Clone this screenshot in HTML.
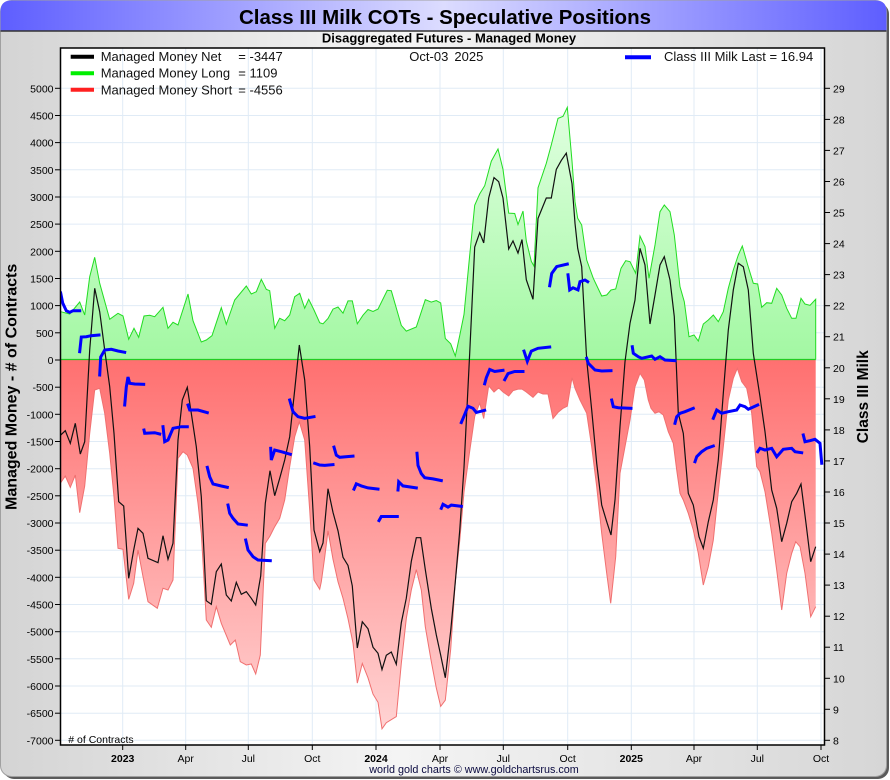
<!DOCTYPE html>
<html><head><meta charset="utf-8"><style>html,body{margin:0;padding:0;background:#fff}svg{display:block}</style></head><body>
<svg width="890" height="780" viewBox="0 0 890 780" xmlns="http://www.w3.org/2000/svg" font-family="'Liberation Sans', Arial, sans-serif">
<defs>
<linearGradient id="bg" x1="0" y1="0" x2="1" y2="0"><stop offset="0" stop-color="#d4d4d4"/><stop offset="0.45" stop-color="#f4f4f4"/><stop offset="1" stop-color="#d6d6d6"/></linearGradient>
<linearGradient id="tb" x1="0" y1="0" x2="1" y2="0"><stop offset="0" stop-color="#5e5eff"/><stop offset="0.5" stop-color="#dcdcff"/><stop offset="1" stop-color="#5e5eff"/></linearGradient>
<linearGradient id="gf" gradientUnits="userSpaceOnUse" x1="0" y1="100" x2="0" y2="360"><stop offset="0" stop-color="#e2ffe2"/><stop offset="1" stop-color="#a2f8a2"/></linearGradient>
<linearGradient id="rf" gradientUnits="userSpaceOnUse" x1="0" y1="360" x2="0" y2="740"><stop offset="0" stop-color="#ff7070"/><stop offset="1" stop-color="#ffd6d6"/></linearGradient>
<clipPath id="pc"><rect x="60.5" y="48" width="764" height="697"/></clipPath>
</defs>
<rect x="3" y="3" width="886" height="776" rx="11" fill="#5a5a5a"/>
<rect x="0.5" y="0.5" width="886" height="776" rx="11" fill="url(#bg)" stroke="#a0a0a0"/>
<path d="M0.5,31 L0.5,11.5 Q0.5,0.5 11.5,0.5 L875.5,0.5 Q886.5,0.5 886.5,11.5 L886.5,31 Z" fill="url(#tb)"/>
<line x1="0.5" y1="31" x2="886.5" y2="31" stroke="#333" stroke-width="1.5"/>
<text x="445" y="24" font-size="20.5" font-weight="bold" text-anchor="middle" fill="#000">Class III Milk COTs - Speculative Positions</text>
<text x="449" y="42.7" font-size="13" font-weight="bold" text-anchor="middle" fill="#000">Disaggregated Futures - Managed Money</text>
<rect x="60.5" y="48" width="764" height="697" fill="#fff"/>
<g stroke="#e0ebf6" stroke-width="1">
<line x1="60.5" x2="824.5" y1="88.3" y2="88.3"/><line x1="60.5" x2="824.5" y1="115.5" y2="115.5"/><line x1="60.5" x2="824.5" y1="142.6" y2="142.6"/><line x1="60.5" x2="824.5" y1="169.8" y2="169.8"/><line x1="60.5" x2="824.5" y1="197" y2="197"/><line x1="60.5" x2="824.5" y1="224.1" y2="224.1"/><line x1="60.5" x2="824.5" y1="251.3" y2="251.3"/><line x1="60.5" x2="824.5" y1="278.5" y2="278.5"/><line x1="60.5" x2="824.5" y1="305.6" y2="305.6"/><line x1="60.5" x2="824.5" y1="332.8" y2="332.8"/><line x1="60.5" x2="824.5" y1="360" y2="360"/><line x1="60.5" x2="824.5" y1="387.2" y2="387.2"/><line x1="60.5" x2="824.5" y1="414.3" y2="414.3"/><line x1="60.5" x2="824.5" y1="441.5" y2="441.5"/><line x1="60.5" x2="824.5" y1="468.7" y2="468.7"/><line x1="60.5" x2="824.5" y1="495.8" y2="495.8"/><line x1="60.5" x2="824.5" y1="523" y2="523"/><line x1="60.5" x2="824.5" y1="550.2" y2="550.2"/><line x1="60.5" x2="824.5" y1="577.3" y2="577.3"/><line x1="60.5" x2="824.5" y1="604.5" y2="604.5"/><line x1="60.5" x2="824.5" y1="631.7" y2="631.7"/><line x1="60.5" x2="824.5" y1="658.8" y2="658.8"/><line x1="60.5" x2="824.5" y1="686" y2="686"/><line x1="60.5" x2="824.5" y1="713.2" y2="713.2"/><line x1="60.5" x2="824.5" y1="740.3" y2="740.3"/>
<line y1="48" y2="745" x1="122.7" x2="122.7"/><line y1="48" y2="745" x1="185.7" x2="185.7"/><line y1="48" y2="745" x1="248.3" x2="248.3"/><line y1="48" y2="745" x1="312.3" x2="312.3"/><line y1="48" y2="745" x1="376" x2="376"/><line y1="48" y2="745" x1="440" x2="440"/><line y1="48" y2="745" x1="503.3" x2="503.3"/><line y1="48" y2="745" x1="567.7" x2="567.7"/><line y1="48" y2="745" x1="631.3" x2="631.3"/><line y1="48" y2="745" x1="694" x2="694"/><line y1="48" y2="745" x1="757.3" x2="757.3"/><line y1="48" y2="745" x1="821" x2="821"/>
</g>
<g clip-path="url(#pc)">
<polygon fill="url(#gf)" points="60.5,359.5 60.7,311.7 69.7,314 79.7,302 84.7,315 89.7,276.7 94.7,257.3 99.7,283.3 109.7,319.3 118,313.3 123,316 128.7,339.3 134,328.3 138.7,337.3 144,316 149.7,315.3 154.7,316.7 163,307.3 168,328.3 173,322.3 178,325 188,294 193,320.7 201.3,342 206.3,340 212,335.7 221.3,307.7 226.3,324.3 234.7,300 246.3,286 251.3,294 256.3,291.7 261.3,279.3 266.3,289.3 269.7,290.7 274.7,328.3 279.7,318.3 284.7,320.7 289.7,315 294.7,296.7 299.7,293.3 304.7,308.3 308.7,299.3 314,310 319.7,322.7 323,323.8 328,318.5 333,309.1 338,307 343,313.2 348,300.9 352.3,300.9 357.3,323.8 363,315.2 368,309.5 373,311.5 378,309.1 387.3,290.3 391.3,290.7 401.3,325.4 406.3,331.1 416.3,327 425.3,299.7 431.3,302.1 436.3,300.5 440.7,302.9 445.3,338.5 450.7,343.8 455.3,356 459.7,335.6 464,314.4 469.7,255.2 474.7,205.3 479.7,193.9 484.7,185.7 491.3,161.2 498,149 503,169.4 508.7,213.1 514.7,213.5 518,224.5 523,211.1 526.3,240.9 531.3,261.3 534,266.2 538,187.8 546.3,163.3 551.3,144.9 558,118.4 563,116.3 567.3,107.4 572,161.2 575,201.7 577.7,218.3 581.7,225 586.7,260 593.3,278.3 601.7,296 606.7,295 611,290 615.7,289 621,268.3 625.7,260.7 630,261.7 635.7,273.3 640,236 645,246.7 649,278.3 655,245 660,211.7 664.3,205 670,211.7 674.3,235 680,286.7 684.3,301.7 689,336.7 694,335 698.3,341 703.3,324 708.3,320 713.3,315 718.3,321.7 723.3,311.7 728.3,288.3 733.3,270 738.3,255 742.3,246 747.7,265 753.3,283.3 757.7,284 761.7,307.3 766.7,302.7 771.7,303.3 776.7,288.3 781.7,295 786.7,308.3 791.7,318.3 796,318.3 801,298.3 805,304 810,305.3 815.7,299.3 815.7,359.5"/>
<polygon fill="url(#rf)" points="60.5,359.5 60.7,482.7 65.3,476 70.3,487.3 75.3,475 79.7,512.7 84.7,486 89.7,433.3 94.7,390 99.7,388.3 104.7,413.3 109.7,453.3 114,496.7 118,548.3 123,549.3 128.7,599.3 133.7,583.3 138,550 143,576.7 148,601.7 157.3,608.3 163,588.3 168,590 173,580 178,458.3 183,451.7 187.3,455 193,468.3 198,503.3 201.3,533.3 206.3,620 211.3,627.3 216.3,606.7 221.3,623.3 230.3,645 235.3,640 240.3,661.7 246.3,665 251.3,664 255.7,674 260.3,655 265.3,543.3 270,536 274.7,526.7 279.7,518.3 284.7,500 289.7,466.7 294.7,436.7 299.3,421.7 304.7,440 309.7,510 314,580 319.7,589.3 321.3,581.8 324.7,557.3 328,530.8 333,559.3 338,581.8 343,598.2 348,618.6 353,643.1 357.3,683.1 362.3,663.5 368,677.8 373,694.1 378,702.3 382,728.8 386.3,722.7 396.3,716.6 401.3,663.5 406.3,618.6 411.3,590 416.3,569.6 421.3,590 425.3,626.8 431.3,661.5 436.3,688 440.7,706.4 445.3,700.2 450.7,649.2 455.3,581.8 459.7,541 464,492 469.7,451.2 474.7,416.5 479.7,403 483.7,418.5 488.7,385.8 494,392 498.7,387.9 503,392 508.7,396 513,390.7 518,389.1 522,389.1 526.3,392 533,397.3 538,392 543,394 548,394 553,418.5 558,412.4 563,408.3 567.3,406.2 572,377.7 575,388.3 580,400 586.7,413.3 591.7,446.7 596.7,486.7 601.7,533.3 606.7,573.3 610.7,603.3 615.7,556.7 620,473.3 625,446.7 630,420 635,386.7 640,373.3 644.3,380 648.3,400 651,408.3 655,413.3 659,411.7 663.3,415 668.3,431.7 673.3,443.3 676.7,470 680,493.3 683.3,500 688.3,513.3 693.3,530 698.3,553.3 703.3,585 708.3,566.7 713.3,540 718.3,491.7 723.3,446.7 728.3,400 733.3,378.3 737.3,368.3 741.7,381.7 746.7,388.3 751.7,413.3 756.7,466.7 760,471.7 765,491.7 771.7,533.3 776.7,570 781.7,610 786.7,573.3 791.7,553.3 795.7,541.7 800,546.7 805,573.3 810.7,616.7 815.7,606.7 815.7,359.5"/>
<polyline fill="none" stroke="#f07070" stroke-width="1" points="60.7,482.7 65.3,476 70.3,487.3 75.3,475 79.7,512.7 84.7,486 89.7,433.3 94.7,390 99.7,388.3 104.7,413.3 109.7,453.3 114,496.7 118,548.3 123,549.3 128.7,599.3 133.7,583.3 138,550 143,576.7 148,601.7 157.3,608.3 163,588.3 168,590 173,580 178,458.3 183,451.7 187.3,455 193,468.3 198,503.3 201.3,533.3 206.3,620 211.3,627.3 216.3,606.7 221.3,623.3 230.3,645 235.3,640 240.3,661.7 246.3,665 251.3,664 255.7,674 260.3,655 265.3,543.3 270,536 274.7,526.7 279.7,518.3 284.7,500 289.7,466.7 294.7,436.7 299.3,421.7 304.7,440 309.7,510 314,580 319.7,589.3 321.3,581.8 324.7,557.3 328,530.8 333,559.3 338,581.8 343,598.2 348,618.6 353,643.1 357.3,683.1 362.3,663.5 368,677.8 373,694.1 378,702.3 382,728.8 386.3,722.7 396.3,716.6 401.3,663.5 406.3,618.6 411.3,590 416.3,569.6 421.3,590 425.3,626.8 431.3,661.5 436.3,688 440.7,706.4 445.3,700.2 450.7,649.2 455.3,581.8 459.7,541 464,492 469.7,451.2 474.7,416.5 479.7,403 483.7,418.5 488.7,385.8 494,392 498.7,387.9 503,392 508.7,396 513,390.7 518,389.1 522,389.1 526.3,392 533,397.3 538,392 543,394 548,394 553,418.5 558,412.4 563,408.3 567.3,406.2 572,377.7 575,388.3 580,400 586.7,413.3 591.7,446.7 596.7,486.7 601.7,533.3 606.7,573.3 610.7,603.3 615.7,556.7 620,473.3 625,446.7 630,420 635,386.7 640,373.3 644.3,380 648.3,400 651,408.3 655,413.3 659,411.7 663.3,415 668.3,431.7 673.3,443.3 676.7,470 680,493.3 683.3,500 688.3,513.3 693.3,530 698.3,553.3 703.3,585 708.3,566.7 713.3,540 718.3,491.7 723.3,446.7 728.3,400 733.3,378.3 737.3,368.3 741.7,381.7 746.7,388.3 751.7,413.3 756.7,466.7 760,471.7 765,491.7 771.7,533.3 776.7,570 781.7,610 786.7,573.3 791.7,553.3 795.7,541.7 800,546.7 805,573.3 810.7,616.7 815.7,606.7"/>
<polyline fill="none" stroke="#22dd22" stroke-width="1" points="60.7,311.7 69.7,314 79.7,302 84.7,315 89.7,276.7 94.7,257.3 99.7,283.3 109.7,319.3 118,313.3 123,316 128.7,339.3 134,328.3 138.7,337.3 144,316 149.7,315.3 154.7,316.7 163,307.3 168,328.3 173,322.3 178,325 188,294 193,320.7 201.3,342 206.3,340 212,335.7 221.3,307.7 226.3,324.3 234.7,300 246.3,286 251.3,294 256.3,291.7 261.3,279.3 266.3,289.3 269.7,290.7 274.7,328.3 279.7,318.3 284.7,320.7 289.7,315 294.7,296.7 299.7,293.3 304.7,308.3 308.7,299.3 314,310 319.7,322.7 323,323.8 328,318.5 333,309.1 338,307 343,313.2 348,300.9 352.3,300.9 357.3,323.8 363,315.2 368,309.5 373,311.5 378,309.1 387.3,290.3 391.3,290.7 401.3,325.4 406.3,331.1 416.3,327 425.3,299.7 431.3,302.1 436.3,300.5 440.7,302.9 445.3,338.5 450.7,343.8 455.3,356 459.7,335.6 464,314.4 469.7,255.2 474.7,205.3 479.7,193.9 484.7,185.7 491.3,161.2 498,149 503,169.4 508.7,213.1 514.7,213.5 518,224.5 523,211.1 526.3,240.9 531.3,261.3 534,266.2 538,187.8 546.3,163.3 551.3,144.9 558,118.4 563,116.3 567.3,107.4 572,161.2 575,201.7 577.7,218.3 581.7,225 586.7,260 593.3,278.3 601.7,296 606.7,295 611,290 615.7,289 621,268.3 625.7,260.7 630,261.7 635.7,273.3 640,236 645,246.7 649,278.3 655,245 660,211.7 664.3,205 670,211.7 674.3,235 680,286.7 684.3,301.7 689,336.7 694,335 698.3,341 703.3,324 708.3,320 713.3,315 718.3,321.7 723.3,311.7 728.3,288.3 733.3,270 738.3,255 742.3,246 747.7,265 753.3,283.3 757.7,284 761.7,307.3 766.7,302.7 771.7,303.3 776.7,288.3 781.7,295 786.7,308.3 791.7,318.3 796,318.3 801,298.3 805,304 810,305.3 815.7,299.3 815.7,359.5"/>
<line x1="60.5" y1="359.5" x2="815.7" y2="359.5" stroke="#22cc22" stroke-width="1.2"/>
<polyline fill="none" stroke="#111" stroke-width="1.2" points="60.7,435 65.3,430.7 70.3,443.3 75.3,423.3 80.3,454 84.7,441.7 89.7,350 94.7,288.3 99.7,311.7 104.7,350 109.7,386.7 114,433.3 118.7,501.7 123.7,506 128.7,578.3 133.7,550 138,528.3 143,533.3 148,558.3 158,562.7 163,535.7 168,559.3 173,543.3 178,440 182.3,400 187.3,387.3 191.3,413.3 196.3,446.7 201.3,496.7 206.3,600.7 211.3,604.3 216.3,571.7 221.3,564 226.3,595 231.3,601 236.3,582.3 241.3,594.3 246.3,591.7 251.3,598.3 255.7,605 260.7,576 265.3,503.3 270,470.7 274.7,495.7 279.7,478.3 284.7,460 289.7,436.7 294.7,390 299.3,345 304.7,380 309.7,446.7 314,530 319.7,551.7 323,543 328,488.7 333,512.4 338,530.8 343,557.3 348,565.5 352.3,585.9 357.3,648 362.3,621.8 368,628.8 373,647.2 378,653.3 382,669.6 386.3,655.3 391.3,652 396.3,664.3 401.3,622.7 406.3,598.2 411.3,561.4 416.3,537.7 420.7,537.7 425.3,569.6 431.3,608.4 436.3,634.9 440.7,655.3 445.3,677.8 450.7,630.8 455.3,581.8 459.7,530.8 464,467.5 469.7,353.2 474.7,247 479.7,232.7 483.7,242.9 488.7,198 494,177.6 498.7,181.7 503,198 508.7,249 513,240.9 518,253.1 522,239.6 526.3,279.7 533,299.3 538,218.4 546.3,198 551.3,198 556.3,169.4 561.3,160.4 566.3,153.1 572,183.7 575,223.3 577.7,248.3 581.7,266.7 586.7,360 591.7,410 596.7,463.3 601.7,505 606.7,521.7 611,535 615,500 620,426.7 625,361.7 630,323.3 635,300 640,248.3 645,265 650,324 655,295 660,265 664.3,256.7 670,280 674.3,316.7 678.3,413.3 683.3,433.3 688.3,493.3 693.3,505 699,536.7 703.3,548.3 708.3,521.7 713.3,500 718.3,460 723.3,393.3 728.3,330 733.3,290 738.3,263.3 743.3,266.7 748.3,290 753.3,353.3 760,396.7 765,431.7 771.7,490 776.7,508.3 781.7,541.7 786.7,523.3 791.7,501.7 796.7,493.3 801,484 806,523.3 810.7,561.7 815.7,546.7"/>
<g fill="none" stroke="#0000ff" stroke-width="3" stroke-linejoin="miter" stroke-linecap="square">
<polyline points="60.7,293 62.7,303 66.3,310.7 69.7,312.3 73,310.7 79.7,310.7"/>
<polyline points="79.7,351.7 81.3,337 86.3,336.7 91,335.7 99,335"/>
<polyline points="99.7,375 100.7,357 104.7,350 111.3,349.3 118,351 124.7,352.3"/>
<polyline points="124.7,405 126.3,387 128,377 129.7,383.3 134.7,384 143.7,384.3"/>
<polyline points="144,430 144.7,433.3 154.7,432.7 159.7,434"/>
<polyline points="163,426.7 164.7,441.7 168,440 173,428.3 181.3,426.7 187.3,426.7"/>
<polyline points="188,405 189.7,410 198,410 207.3,412.7"/>
<polyline points="207.3,467.3 209.7,476.7 213,484 221.3,486 227.3,487.3"/>
<polyline points="228,505 229.7,513.3 233,518.3 238,524 246.3,525"/>
<polyline points="245.7,540 248,550 253,556.7 258,560 270.3,560.7"/>
<polyline points="270.7,448.3 271.3,460 274.7,450 281.3,451.7 290.3,454.3"/>
<polyline points="289.7,400 293,411.7 298,416.7 304.7,418.3 314,416.7"/>
<polyline points="314.7,463.3 319.7,465 324.7,465.4 333,464.6"/>
<polyline points="334,447.1 336.3,455.2 339.7,457.3 353,456.1"/>
<polyline points="354,489.1 356.3,483.8 361.3,485.9 368,487.9 378,489.1"/>
<polyline points="379,520.6 381.3,516.5 388,516.5 397.3,516.5"/>
<polyline points="398,490 398.7,481.8 403,485.9 416.3,487.9"/>
<polyline points="417,453.2 418,465.4 421.3,473.6 424.7,477.7 433,478.9 441.3,480.6"/>
<polyline points="441.3,508.3 443,504.3 448,507.1 451.3,505.1 461.3,506.3"/>
<polyline points="461.3,422.6 464.7,414.4 468,406.2 473,408.3 476.3,412.4 484.7,410.3"/>
<polyline points="484.7,383.8 486.3,377.7 489.7,369.5 494.7,371.5 503,370.3"/>
<polyline points="504.7,379.7 508,373.6 514.7,371.5 523,371.5"/>
<polyline points="524,351.1 527.3,361.3 531.3,351.1 538,348.3 549.7,347"/>
<polyline points="549.7,285.8 551.7,273.5 556.7,266.6 567.3,264.1"/>
<polyline points="568,274.8 569.7,289.9 573,287.8 578,289.9 580,281.7 585,280 587.7,281.7"/>
<polyline points="586.7,358.3 588.3,363.3 591.7,366.7 595,370 601.7,371 611,370.7"/>
<polyline points="611.7,400 613.3,406.7 618.3,407.7 631,408.3"/>
<polyline points="632.3,346.7 633.3,353.3 638.3,356.7 641.7,358.3 651.7,356 655,359.3 660,356.7 665,360 675,360.7"/>
<polyline points="675,423.3 676.7,416.7 680,413.3 685,411.7 693.3,408.3"/>
<polyline points="695,461.7 696.7,456.7 701.7,451.7 706.7,448.3 713.3,446"/>
<polyline points="713.3,418.3 716.7,410 721.7,413.3 728.3,411.7 736.7,410 740,405 745,406.7 748.3,409.3 757.7,405"/>
<polyline points="757.7,451.7 760,448.3 765,450 771.7,448.3 776.7,456.7 783.3,449.3 791.7,448.3 795,451.7 801.7,452.7"/>
<polyline points="803.3,435 805,441.7 810,440.7 815,439.3 820,443.3 821.7,463.3"/>
</g>
</g>
<rect x="60.5" y="48" width="764" height="697" fill="none" stroke="#000" stroke-width="1.5"/>
<g stroke="#000" stroke-width="1">
<line x1="55" x2="60.5" y1="88.3" y2="88.3"/><line x1="55" x2="60.5" y1="115.5" y2="115.5"/><line x1="55" x2="60.5" y1="142.6" y2="142.6"/><line x1="55" x2="60.5" y1="169.8" y2="169.8"/><line x1="55" x2="60.5" y1="197" y2="197"/><line x1="55" x2="60.5" y1="224.1" y2="224.1"/><line x1="55" x2="60.5" y1="251.3" y2="251.3"/><line x1="55" x2="60.5" y1="278.5" y2="278.5"/><line x1="55" x2="60.5" y1="305.6" y2="305.6"/><line x1="55" x2="60.5" y1="332.8" y2="332.8"/><line x1="55" x2="60.5" y1="360" y2="360"/><line x1="55" x2="60.5" y1="387.2" y2="387.2"/><line x1="55" x2="60.5" y1="414.3" y2="414.3"/><line x1="55" x2="60.5" y1="441.5" y2="441.5"/><line x1="55" x2="60.5" y1="468.7" y2="468.7"/><line x1="55" x2="60.5" y1="495.8" y2="495.8"/><line x1="55" x2="60.5" y1="523" y2="523"/><line x1="55" x2="60.5" y1="550.2" y2="550.2"/><line x1="55" x2="60.5" y1="577.3" y2="577.3"/><line x1="55" x2="60.5" y1="604.5" y2="604.5"/><line x1="55" x2="60.5" y1="631.7" y2="631.7"/><line x1="55" x2="60.5" y1="658.8" y2="658.8"/><line x1="55" x2="60.5" y1="686" y2="686"/><line x1="55" x2="60.5" y1="713.2" y2="713.2"/><line x1="55" x2="60.5" y1="740.3" y2="740.3"/>
<line x1="824.5" x2="830" y1="88.3" y2="88.3"/><line x1="824.5" x2="830" y1="119.4" y2="119.4"/><line x1="824.5" x2="830" y1="150.4" y2="150.4"/><line x1="824.5" x2="830" y1="181.5" y2="181.5"/><line x1="824.5" x2="830" y1="212.5" y2="212.5"/><line x1="824.5" x2="830" y1="243.6" y2="243.6"/><line x1="824.5" x2="830" y1="274.6" y2="274.6"/><line x1="824.5" x2="830" y1="305.7" y2="305.7"/><line x1="824.5" x2="830" y1="336.7" y2="336.7"/><line x1="824.5" x2="830" y1="367.8" y2="367.8"/><line x1="824.5" x2="830" y1="398.8" y2="398.8"/><line x1="824.5" x2="830" y1="429.9" y2="429.9"/><line x1="824.5" x2="830" y1="460.9" y2="460.9"/><line x1="824.5" x2="830" y1="492" y2="492"/><line x1="824.5" x2="830" y1="523" y2="523"/><line x1="824.5" x2="830" y1="554.1" y2="554.1"/><line x1="824.5" x2="830" y1="585.1" y2="585.1"/><line x1="824.5" x2="830" y1="616.2" y2="616.2"/><line x1="824.5" x2="830" y1="647.2" y2="647.2"/><line x1="824.5" x2="830" y1="678.3" y2="678.3"/><line x1="824.5" x2="830" y1="709.3" y2="709.3"/><line x1="824.5" x2="830" y1="740.3" y2="740.3"/>
<line y1="745" y2="750" x1="122.7" x2="122.7"/><line y1="745" y2="750" x1="185.7" x2="185.7"/><line y1="745" y2="750" x1="248.3" x2="248.3"/><line y1="745" y2="750" x1="312.3" x2="312.3"/><line y1="745" y2="750" x1="376" x2="376"/><line y1="745" y2="750" x1="440" x2="440"/><line y1="745" y2="750" x1="503.3" x2="503.3"/><line y1="745" y2="750" x1="567.7" x2="567.7"/><line y1="745" y2="750" x1="631.3" x2="631.3"/><line y1="745" y2="750" x1="694" x2="694"/><line y1="745" y2="750" x1="757.3" x2="757.3"/><line y1="745" y2="750" x1="821" x2="821"/>
</g>
<g font-size="10.5" fill="#000" text-anchor="end">
<text x="53.5" y="92.3">5000</text><text x="53.5" y="119.5">4500</text><text x="53.5" y="146.6">4000</text><text x="53.5" y="173.8">3500</text><text x="53.5" y="201">3000</text><text x="53.5" y="228.1">2500</text><text x="53.5" y="255.3">2000</text><text x="53.5" y="282.5">1500</text><text x="53.5" y="309.6">1000</text><text x="53.5" y="336.8">500</text><text x="53.5" y="364">0</text><text x="53.5" y="391.2">-500</text><text x="53.5" y="418.3">-1000</text><text x="53.5" y="445.5">-1500</text><text x="53.5" y="472.7">-2000</text><text x="53.5" y="499.8">-2500</text><text x="53.5" y="527">-3000</text><text x="53.5" y="554.2">-3500</text><text x="53.5" y="581.3">-4000</text><text x="53.5" y="608.5">-4500</text><text x="53.5" y="635.7">-5000</text><text x="53.5" y="662.8">-5500</text><text x="53.5" y="690">-6000</text><text x="53.5" y="717.2">-6500</text><text x="53.5" y="744.3">-7000</text>
</g>
<g font-size="10.5" fill="#000">
<text x="833" y="92.3">29</text><text x="833" y="123.4">28</text><text x="833" y="154.4">27</text><text x="833" y="185.5">26</text><text x="833" y="216.5">25</text><text x="833" y="247.6">24</text><text x="833" y="278.6">23</text><text x="833" y="309.7">22</text><text x="833" y="340.7">21</text><text x="833" y="371.8">20</text><text x="833" y="402.8">19</text><text x="833" y="433.9">18</text><text x="833" y="464.9">17</text><text x="833" y="496">16</text><text x="833" y="527">15</text><text x="833" y="558.1">14</text><text x="833" y="589.1">13</text><text x="833" y="620.2">12</text><text x="833" y="651.2">11</text><text x="833" y="682.3">10</text><text x="833" y="713.3">9</text><text x="833" y="744.3">8</text>
</g>
<g font-size="10.5" fill="#000" text-anchor="middle">
<text x="122.7" y="762" font-weight="bold">2023</text><text x="185.7" y="762">Apr</text><text x="248.3" y="762">Jul</text><text x="312.3" y="762">Oct</text><text x="376" y="762" font-weight="bold">2024</text><text x="440" y="762">Apr</text><text x="503.3" y="762">Jul</text><text x="567.7" y="762">Oct</text><text x="631.3" y="762" font-weight="bold">2025</text><text x="694" y="762">Apr</text><text x="757.3" y="762">Jul</text><text x="821" y="762">Oct</text>
</g>
<text x="474" y="773" font-size="10.8" text-anchor="middle" fill="#0a0a40">world gold charts © www.goldchartsrus.com</text>
<text x="68.3" y="743" font-size="10.5" fill="#000"># of Contracts</text>
<text transform="translate(16.5,510) rotate(-90)" font-size="16" font-weight="bold" fill="#000">Managed Money - # of Contracts</text>
<text transform="translate(868,443.3) rotate(-90)" font-size="15.5" font-weight="bold" fill="#000">Class III Milk</text>
<g stroke-width="4">
<line x1="70.7" y1="56.7" x2="94" y2="56.7" stroke="#000"/>
<line x1="70.7" y1="73.3" x2="94" y2="73.3" stroke="#00ee00"/>
<line x1="70.7" y1="89.8" x2="94" y2="89.8" stroke="#ff2020"/>
<line x1="625" y1="57.3" x2="651" y2="57.3" stroke="#0000ff"/>
</g>
<g font-size="13" fill="#111">
<text x="100.7" y="61">Managed Money Net</text><text x="238.3" y="61">= -3447</text>
<text x="100.7" y="77.7">Managed Money Long</text><text x="238.3" y="77.7">= 1109</text>
<text x="100.7" y="94.5">Managed Money Short</text><text x="238.3" y="94.5">= -4556</text>
<text x="409.3" y="61">Oct-03</text><text x="454.4" y="61">2025</text>
<text x="664" y="61">Class III Milk Last = 16.94</text>
</g>
</svg>
</body></html>
